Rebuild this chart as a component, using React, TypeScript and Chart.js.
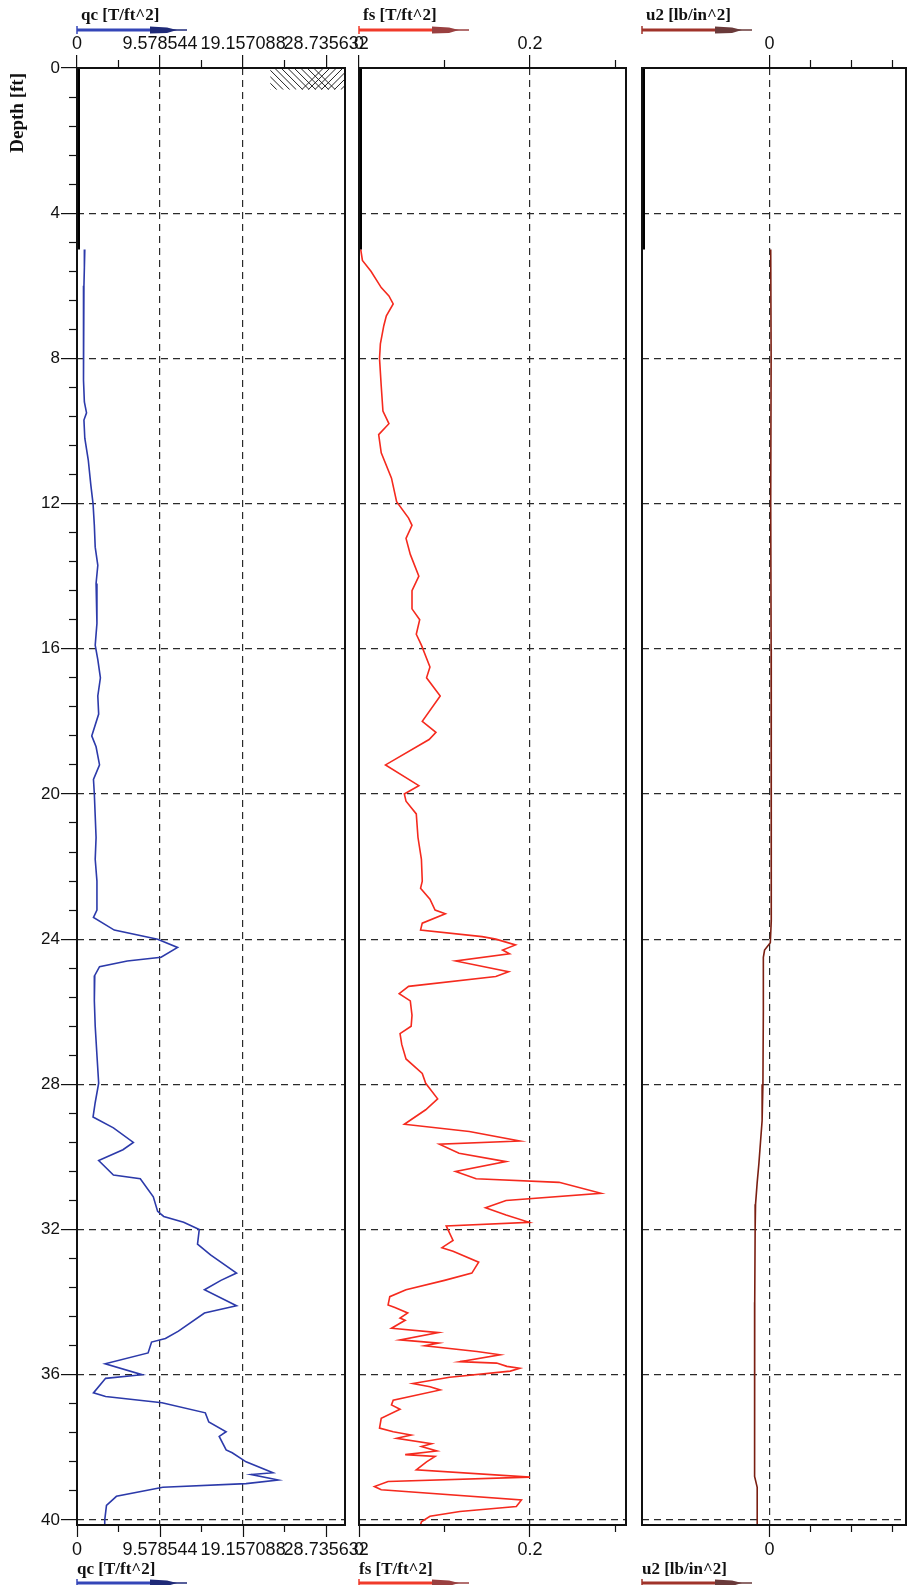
import { useEffect, useRef } from "react";
import Chart from "chart.js/auto";

// --- depth axis [ft] ---
const DEPTH_MAX = 40.14;
const PREDRILL_DEPTH = 5.0;
const DEPTH_TICKS = [0, 4, 8, 12, 16, 20, 24, 28, 32, 36, 40];
const DEPTH_MINOR_TICKS = DEPTH_TICKS.slice(1).flatMap(d => [d - 3.2, d - 2.4, d - 1.6, d - 0.8]);

// --- qc [T/ft^2] ---
const QC_TICKS = [0, 9.578544, 19.157088, 28.735632];
const QC_MINOR_TICKS = [4.789272, 14.367816, 23.94636];
const QC_GRID = [9.578544, 19.157088];
const QC_DEPTH = [
  5.0, 5.5, 6.0, 6.8, 7.5, 8.0, 8.6, 9.2, 9.5, 9.7, 10.2, 10.8, 11.5, 12.0, 12.6, 13.2, 13.7, 14.2,
  14.8, 15.3, 15.9, 16.3, 16.8, 17.3, 17.8, 18.4, 18.7, 19.2, 19.6, 20.0, 20.6, 21.2, 21.8, 22.4,
  23.0, 23.2, 23.4, 23.75, 24.0, 24.23, 24.5, 24.6, 24.76, 25.0, 25.7, 26.4, 27.2, 27.97, 28.5, 28.9,
  29.2, 29.6, 29.8, 30.1, 30.5, 30.6, 31.1, 31.5, 31.64, 31.8, 32.0, 32.4, 32.7, 33.2, 33.4, 33.66,
  34.1, 34.3, 34.8, 35.0, 35.1, 35.4, 35.7, 36.0, 36.1, 36.5, 36.6, 36.77, 37.05, 37.3, 37.57, 37.7,
  38.07, 38.15, 38.4, 38.7, 38.75, 38.9, 39.0, 39.1, 39.35, 39.6, 40.0, 40.14,
];
const QC_VALUE = [
  0.9, 0.85, 0.8, 0.75, 0.7, 0.75, 0.8, 0.85, 1.1, 0.8, 0.9, 1.3, 1.6, 1.85, 2.0, 2.1, 2.4, 2.2,
  2.3, 2.3, 2.1, 2.4, 2.7, 2.4, 2.5, 1.7, 2.2, 2.6, 1.9, 2.0, 2.1, 2.2, 2.1, 2.3,
  2.3, 2.3, 1.9, 4.3, 9.3, 11.6, 9.7, 5.8, 2.6, 2.05, 2.0, 2.1, 2.3, 2.5, 2.1, 1.85,
  4.2, 6.5, 5.3, 2.5, 4.2, 7.3, 8.8, 9.3, 10.0, 12.3, 14.1, 13.9, 15.4, 18.4, 16.6, 14.7,
  18.4, 14.7, 11.7, 10.2, 8.6, 8.2, 3.25, 7.5, 3.3, 1.9, 3.3, 9.8, 14.8, 15.2, 17.2, 16.4,
  17.2, 17.9, 19.5, 22.6, 20.1, 23.2, 19.5, 9.9, 4.55, 3.4, 3.2, 3.2,
];

// --- fs [T/ft^2] ---
const FS_TICKS = [0, 0.2];
const FS_MINOR_TICKS = [0.1, 0.3];
const FS_GRID = [0.2];
const FS_DEPTH = [
  5.0, 5.3, 5.6, 6.05, 6.28, 6.5, 6.83, 7.1, 7.6, 8.0, 8.76, 9.45, 9.8, 10.1, 10.6, 11.3, 11.95, 12.4,
  12.6, 12.96, 13.4, 14.0, 14.4, 14.9, 15.2, 15.6, 15.9, 16.5, 16.8, 17.3, 18.0, 18.3, 18.5, 19.2,
  19.77, 20.0, 20.2, 20.55, 21.2, 21.8, 22.4, 22.6, 22.9, 23.2, 23.3, 23.56, 23.75, 23.93, 24.0, 24.16,
  24.3, 24.4, 24.6, 24.9, 25.03, 25.3, 25.5, 25.7, 26.1, 26.4, 26.6, 26.9, 27.3, 27.7, 27.97, 28.4,
  28.7, 29.1, 29.3, 29.56, 29.65, 29.9, 30.13, 30.4, 30.6, 30.7, 31.0, 31.2, 31.4, 31.6, 31.8, 31.9,
  32.3, 32.5, 32.6, 32.9, 33.2, 33.4, 33.66, 33.85, 34.08, 34.15, 34.3, 34.44, 34.5, 34.72, 34.84, 35.04,
  35.13, 35.2, 35.36, 35.45, 35.64, 35.68, 35.77, 35.82, 35.9, 36.07, 36.24, 36.33, 36.42, 36.7, 36.83, 36.95,
  37.2, 37.47, 37.57, 37.66, 37.75, 37.9, 37.98, 38.1, 38.2, 38.25, 38.4, 38.62, 38.82, 38.94, 39.08, 39.17,
  39.45, 39.63, 39.77, 39.9, 40.05, 40.14,
];
const FS_VALUE = [
  0.002, 0.004, 0.014, 0.026, 0.035, 0.04, 0.032, 0.029, 0.025, 0.024, 0.026, 0.028, 0.035, 0.023, 0.026, 0.038, 0.044, 0.058,
  0.062, 0.055, 0.06, 0.07, 0.062, 0.062, 0.071, 0.067, 0.073, 0.083, 0.079, 0.095, 0.074, 0.09, 0.082, 0.031,
  0.07, 0.053, 0.055, 0.067, 0.069, 0.073, 0.074, 0.072, 0.083, 0.089, 0.101, 0.074, 0.072, 0.144, 0.16, 0.183,
  0.168, 0.176, 0.113, 0.175, 0.16, 0.058, 0.047, 0.06, 0.062, 0.061, 0.048, 0.05, 0.055, 0.074, 0.078, 0.092,
  0.078, 0.053, 0.129, 0.188, 0.094, 0.117, 0.172, 0.113, 0.137, 0.234, 0.283, 0.172, 0.148, 0.172, 0.199, 0.102,
  0.11, 0.097, 0.11, 0.14, 0.132, 0.1, 0.055, 0.036, 0.034, 0.042, 0.057, 0.048, 0.054, 0.038, 0.093, 0.048,
  0.093, 0.077, 0.138, 0.165, 0.118, 0.161, 0.173, 0.188, 0.177, 0.106, 0.063, 0.083, 0.095, 0.04, 0.038, 0.048,
  0.026, 0.024, 0.04, 0.061, 0.044, 0.085, 0.073, 0.091, 0.054, 0.089, 0.079, 0.067, 0.2, 0.034, 0.018, 0.026,
  0.19, 0.184, 0.118, 0.083, 0.073, 0.072,
];

// --- u2 [lb/in^2] ---
const U2_TICKS = [0];
const U2_MINOR_TICKS = [1, 2, 3];
const U2_GRID = [0];
const U2_DEPTH = [
  5.0, 8.0, 12.0, 16.0, 20.0, 22.0, 23.5, 24.1, 24.3, 24.5, 26.0, 28.0, 29.0, 29.6, 30.2, 30.7,
  31.3, 32.0, 34.0, 36.0, 38.0, 38.8, 39.1, 40.14,
];
const U2_VALUE = [
  0.03, 0.04, 0.03, 0.04, 0.04, 0.05, 0.04, 0.02, -0.12, -0.15, -0.15, -0.16, -0.18, -0.22, -0.26, -0.3,
  -0.34, -0.35, -0.36, -0.36, -0.37, -0.36, -0.3, -0.3,
];

const PAGE_W = 914;
const PAGE_H = 1585;
const AREA_TOP = 68;
const AREA_BOTTOM = 1525;
const SANS = '"Liberation Sans", Arial, sans-serif';
const SERIF = '"Liberation Serif", "Times New Roman", serif';

type PanelSpec = {
  id: string;
  title: string;
  min: number;
  max: number;
  ticks: number[];
  minorTicks: number[];
  grid: number[];
  depth: number[];
  values: number[];
  color: string;
  arrowColor: string;
  arrowHead: string;
  canvasLeft: number;
  canvasWidth: number;
  areaLeft: number;
  areaRight: number;
  depthAxis: boolean;
  hatchFrom?: number;
};

const PANELS: PanelSpec[] = [
  {
    id: "qc", title: "qc [T/ft^2]", min: 0, max: 30.91,
    ticks: QC_TICKS, minorTicks: QC_MINOR_TICKS, grid: QC_GRID,
    depth: QC_DEPTH, values: QC_VALUE,
    color: "#2c3aaa", arrowColor: "#3446b8", arrowHead: "#1f2a78",
    canvasLeft: 0, canvasWidth: 385, areaLeft: 77, areaRight: 345, depthAxis: true, hatchFrom: 22.3,
  },
  {
    id: "fs", title: "fs [T/ft^2]", min: 0, max: 0.3123,
    ticks: FS_TICKS, minorTicks: FS_MINOR_TICKS, grid: FS_GRID,
    depth: FS_DEPTH, values: FS_VALUE,
    color: "#f52a1e", arrowColor: "#f03a2a", arrowHead: "#9a4040",
    canvasLeft: 340, canvasWidth: 320, areaLeft: 359, areaRight: 626, depthAxis: false,
  },
  {
    id: "u2", title: "u2 [lb/in^2]", min: -3.11, max: 3.33,
    ticks: U2_TICKS, minorTicks: U2_MINOR_TICKS, grid: U2_GRID,
    depth: U2_DEPTH, values: U2_VALUE,
    color: "#7a1f12", arrowColor: "#a0332a", arrowHead: "#6a3a3a",
    canvasLeft: 625, canvasWidth: 289, areaLeft: 642, areaRight: 906, depthAxis: false,
  },
];

const setTicks = (values: number[]) => (scale: any) => {
  scale.ticks = values.map(value => ({ value }));
};

const fixSize = (size: number, vertical: boolean) => (scale: any) => {
  if (vertical) scale.width = size;
  else scale.height = size;
  scale.paddingLeft = 0;
  scale.paddingRight = 0;
  scale.paddingTop = 0;
  scale.paddingBottom = 0;
};

function drawArrow(ctx: CanvasRenderingContext2D, x: number, y: number, color: string, head: string) {
  ctx.lineCap = "butt";
  ctx.strokeStyle = color;
  ctx.lineWidth = 3;
  ctx.beginPath();
  ctx.moveTo(x, y);
  ctx.lineTo(x + 76, y);
  ctx.stroke();
  ctx.lineWidth = 1.5;
  ctx.beginPath();
  ctx.moveTo(x, y - 4);
  ctx.lineTo(x, y + 4);
  ctx.stroke();
  ctx.strokeStyle = head;
  ctx.beginPath();
  ctx.moveTo(x + 95, y);
  ctx.lineTo(x + 110, y);
  ctx.stroke();
  ctx.fillStyle = head;
  ctx.beginPath();
  ctx.moveTo(x + 73, y - 3.5);
  ctx.lineTo(x + 90, y - 2.5);
  ctx.lineTo(x + 100, y);
  ctx.lineTo(x + 90, y + 3);
  ctx.lineTo(x + 73, y + 3.5);
  ctx.closePath();
  ctx.fill();
}

const headerPlugin = {
  id: "cptHeader",
  afterDraw(chart: any, _args: any, opts: any) {
    const { ctx, chartArea } = chart;
    const L = chartArea.left;
    ctx.save();

    // soil hatch at top of the qc panel
    if (opts.hatchFrom != null) {
      const x0 = chart.scales.x.getPixelForValue(opts.hatchFrom);
      const x1 = chartArea.right;
      const y0 = chart.scales.y.getPixelForValue(0);
      const y1 = chart.scales.y.getPixelForValue(0.6);
      const h = y1 - y0;
      ctx.save();
      ctx.beginPath();
      ctx.rect(x0, y0, x1 - x0, h);
      ctx.clip();
      ctx.strokeStyle = "#222";
      ctx.lineWidth = 1;
      const split = x0 + (x1 - x0) * 0.62;
      for (let x = x0 - h; x < split; x += 6.5) {
        ctx.beginPath();
        ctx.moveTo(x, y0);
        ctx.lineTo(x + h, y1);
        ctx.stroke();
      }
      for (let x = x0 + (x1 - x0) * 0.42; x < x1 + h; x += 6.5) {
        ctx.beginPath();
        ctx.moveTo(x, y1);
        ctx.lineTo(x + h, y0);
        ctx.stroke();
      }
      ctx.restore();
    }

    // frame
    ctx.strokeStyle = "#111";
    ctx.lineWidth = 2;
    ctx.strokeRect(L, chartArea.top, chartArea.right - L, chartArea.bottom - chartArea.top);

    // titles + legend arrows, top and bottom
    ctx.font = `bold 17px ${SERIF}`;
    ctx.fillStyle = "#111";
    ctx.textAlign = "left";
    ctx.textBaseline = "middle";
    ctx.fillText(opts.title, L + 4, 16);
    ctx.fillText(opts.title, L, chartArea.bottom + 45);
    drawArrow(ctx, L, 30, opts.arrowColor, opts.arrowHead);
    drawArrow(ctx, L, chartArea.bottom + 58, opts.arrowColor, opts.arrowHead);

    // depth axis title, hanging just below the top of the axis
    if (opts.depthTitle) {
      ctx.fillStyle = "#111";
      ctx.font = `bold 19px ${SERIF}`;
      ctx.translate(18, chartArea.top + 5);
      ctx.rotate(-Math.PI / 2);
      ctx.textAlign = "right";
      ctx.fillText(opts.depthTitle, 0, 0);
    }
    ctx.restore();
  },
};

function buildConfig(p: PanelSpec): any {
  const tickFont = { family: SANS, size: 18 };
  const gridColor = (ctx: any) =>
    ctx.tick && p.grid.includes(ctx.tick.value) ? "#2a2a2a" : "rgba(0,0,0,0)";

  const xBase = { type: "linear", min: p.min, max: p.max };
  const yBase = { type: "linear", min: 0, max: DEPTH_MAX, reverse: true };

  return {
    type: "scatter",
    data: {
      datasets: [
        {
          // pre-drill marker along the left edge
          data: [{ x: p.min, y: 0 }, { x: p.min, y: PREDRILL_DEPTH }],
          showLine: true,
          borderColor: "#000",
          borderWidth: 6,
          pointRadius: 0,
          xAxisID: "x",
          yAxisID: "y",
        },
        {
          data: p.depth.map((d, i) => ({ x: p.values[i], y: d })),
          showLine: true,
          borderColor: p.color,
          borderWidth: 1.6,
          pointRadius: 0,
          tension: 0,
          xAxisID: "x",
          yAxisID: "y",
        },
      ],
    },
    options: {
      responsive: false,
      animation: false,
      events: [],
      devicePixelRatio: 1,
      layout: {
        autoPadding: false,
        padding: {
          left: p.depthAxis ? 0 : p.areaLeft - p.canvasLeft,
          right: p.canvasLeft + p.canvasWidth - p.areaRight,
          top: 0,
          bottom: 0,
        },
      },
      scales: {
        // inner (minor) axes first, so they sit against the plot area
        yMinor: {
          ...yBase,
          position: "left",
          display: p.depthAxis,
          afterBuildTicks: setTicks(DEPTH_MINOR_TICKS),
          afterFit: fixSize(0, true),
          ticks: { display: false },
          grid: { drawOnChartArea: false, tickLength: 8, tickColor: "#111", tickWidth: 1.2 },
          border: { display: false },
        },
        xTopMinor: {
          ...xBase,
          position: "top",
          afterBuildTicks: setTicks(p.minorTicks),
          afterFit: fixSize(0, false),
          ticks: { display: false },
          grid: { drawOnChartArea: false, tickLength: 8, tickColor: "#111", tickWidth: 1.2 },
          border: { display: false },
        },
        xBottomMinor: {
          ...xBase,
          position: "bottom",
          afterBuildTicks: setTicks(p.minorTicks),
          afterFit: fixSize(0, false),
          ticks: { display: false },
          grid: { drawOnChartArea: false, tickLength: 7, tickColor: "#111", tickWidth: 1.2 },
          border: { display: false },
        },
        y: {
          ...yBase,
          position: "left",
          afterBuildTicks: setTicks(DEPTH_TICKS),
          afterFit: fixSize(p.depthAxis ? p.areaLeft : 0, true),
          ticks: {
            display: p.depthAxis,
            font: { family: SANS, size: 17 },
            color: "#111",
            padding: 1,
            autoSkip: false,
            callback: (v: number) => String(v),
          },
          grid: {
            drawOnChartArea: true,
            drawTicks: p.depthAxis,
            tickLength: 16,
            lineWidth: 1.2,
            tickWidth: 1.2,
            tickColor: "#111",
            color: (ctx: any) => (ctx.tick && ctx.tick.value > 0 ? "#2a2a2a" : "rgba(0,0,0,0)"),
          },
          border: { display: false, dash: [7, 5] },
        },
        x: {
          ...xBase,
          position: "top",
          afterBuildTicks: setTicks(p.ticks),
          afterFit: fixSize(AREA_TOP, false),
          ticks: {
            font: tickFont,
            color: "#111",
            padding: 0,
            maxRotation: 0,
            autoSkip: false,
            callback: (v: number) => String(v),
          },
          grid: {
            drawOnChartArea: true,
            tickLength: 13,
            lineWidth: 1.2,
            tickWidth: 1.2,
            tickColor: "#111",
            color: gridColor,
          },
          border: { display: false, dash: [7, 5] },
        },
        xBottom: {
          ...xBase,
          position: "bottom",
          afterBuildTicks: setTicks(p.ticks),
          afterFit: fixSize(PAGE_H - AREA_BOTTOM, false),
          ticks: {
            font: tickFont,
            color: "#111",
            padding: 2,
            maxRotation: 0,
            autoSkip: false,
            callback: (v: number) => String(v),
          },
          grid: { drawOnChartArea: false, tickLength: 12, tickWidth: 1.2, tickColor: "#111" },
          border: { display: false },
        },
      },
      plugins: {
        legend: { display: false },
        tooltip: { enabled: false },
        cptHeader: {
          title: p.title,
          arrowColor: p.arrowColor,
          arrowHead: p.arrowHead,
          hatchFrom: p.hatchFrom,
          depthTitle: p.depthAxis ? "Depth [ft]" : null,
        },
      },
    },
    plugins: [headerPlugin],
  };
}

function LogPanel({ panel }: { panel: PanelSpec }) {
  const canvasRef = useRef<HTMLCanvasElement | null>(null);

  useEffect(() => {
    if (!canvasRef.current) return;
    const chart = new Chart(canvasRef.current, buildConfig(panel));
    return () => {
      chart.destroy();
    };
  }, [panel]);

  return (
    <canvas
      ref={canvasRef}
      width={panel.canvasWidth}
      height={PAGE_H}
      style={{ position: "absolute", left: panel.canvasLeft, top: 0 }}
    />
  );
}

export default function App() {
  return (
    <div
      style={{
        position: "absolute",
        left: 0,
        top: 0,
        width: PAGE_W,
        height: PAGE_H,
        background: "#fff",
        overflow: "hidden",
      }}
    >
      {PANELS.map(p => (
        <LogPanel key={p.id} panel={p} />
      ))}
    </div>
  );
}
